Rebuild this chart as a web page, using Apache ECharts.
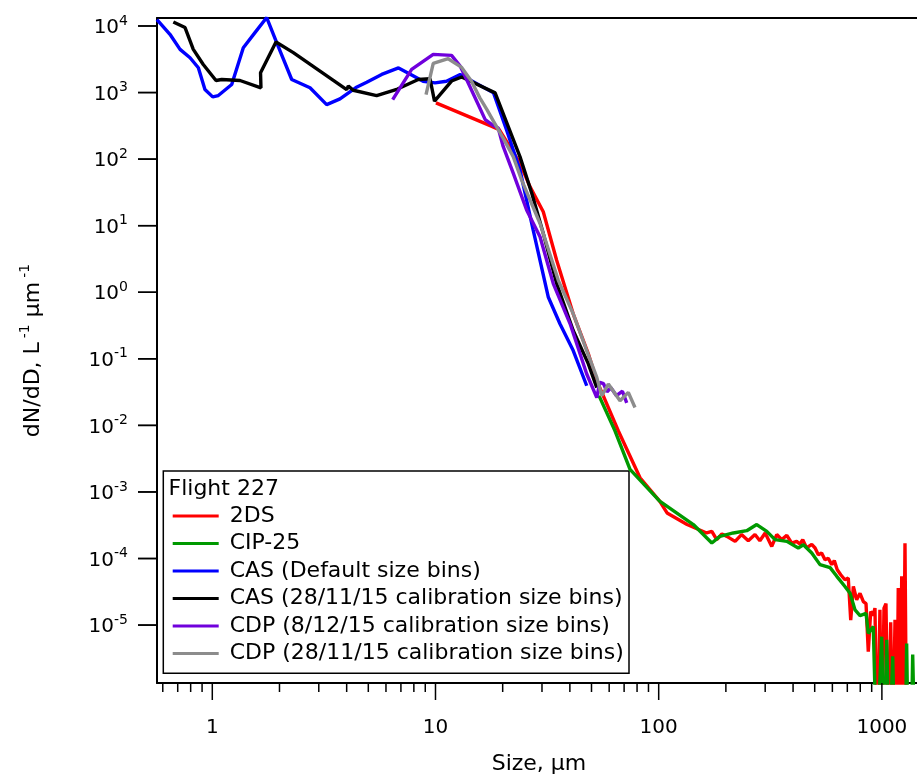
<!DOCTYPE html>
<html>
<head>
<meta charset="utf-8">
<script src="https://cdn.jsdelivr.net/npm/echarts@6/dist/echarts.min.js"></script>
<style>
  html, body { margin: 0; padding: 0; background: #fff; }
  #chart { width: 917px; height: 776px; }
</style>
</head>
<body>
<div id="chart"></div>
<script>
// size (um) vs dN/dD (L-1 um-1); 1e-7 stands for empty bins that drop off the axis
const seriesNames = [
  '2DS',
  'CIP-25',
  'CAS (Default size bins)',
  'CAS (28/11/15 calibration size bins)',
  'CDP (8/12/15 calibration size bins)',
  'CDP (28/11/15 calibration size bins)'
];
const seriesColors = ['#ff0000', '#009900', '#0000ff', '#000000', '#7000dc', '#8c8c8c'];

const twoDS = [
  [10.05, 700], [17.9, 310], [19.3, 277], [23.9, 87], [26.5, 38.6], [30.4, 16.2], [34.9, 3.03],
  [41.4, 0.475], [48.4, 0.119], [52.8, 0.047], [65.9, 0.0083], [82.5, 0.00163], [101, 7.26e-4],
  [109, 4.84e-4], [134, 3.24e-4], [164, 2.42e-4], [173, 2.56e-4], [182, 1.92e-4], [192, 2.34e-4],
  [202, 2.15e-4], [220, 1.81e-4], [235, 2.29e-4], [252, 1.85e-4], [270, 2.29e-4], [284, 1.85e-4],
  [300, 2.42e-4], [321, 1.52e-4], [338, 2.29e-4], [356, 1.92e-4], [375, 2.23e-4], [394, 1.71e-4],
  [415, 1.81e-4], [429, 1.65e-4], [442, 1.92e-4], [460, 1.44e-4], [485, 1.63e-4], [502, 1.44e-4],
  [519, 1.14e-4], [537, 1.21e-4], [556, 9.6e-5], [575, 1.01e-4], [596, 8.1e-5], [612, 9.3e-5],
  [631, 6.8e-5], [654, 5.7e-5], [683, 4.8e-5], [707, 5.1e-5], [725, 1.19e-5], [745, 3.8e-5],
  [771, 2.4e-5], [798, 3.0e-5], [826, 2.25e-5], [849, 2.1e-5], [869, 4.0e-6], [891, 1.6e-5],
  [915, 1.4e-5], [931, 1.8e-5], [954, 1e-7], [980, 1.7e-5], [998, 1e-7], [1022, 1.8e-5],
  [1043, 2.1e-5], [1068, 1e-7], [1095, 1.1e-5], [1118, 1e-7], [1145, 1.2e-5], [1165, 1e-7],
  [1184, 3.6e-5], [1205, 1e-7], [1227, 5.4e-5], [1247, 1e-7], [1269, 1.7e-4], [1291, 1e-7]
];

const cip25 = [
  [54, 0.028], [63.7, 0.0083], [74.4, 0.00218], [101, 7.26e-4], [143, 3.24e-4], [173, 1.71e-4],
  [188, 2.15e-4], [216, 2.42e-4], [248, 2.62e-4], [275, 3.24e-4], [305, 2.56e-4], [332, 1.92e-4],
  [375, 1.81e-4], [422, 1.44e-4], [445, 1.61e-4], [485, 1.21e-4], [528, 8.1e-5], [586, 7.3e-5],
  [628, 5.4e-5], [683, 3.8e-5], [720, 3.0e-5], [758, 1.69e-5], [798, 1.39e-5], [849, 1.5e-5],
  [869, 7.5e-6], [915, 9.5e-6], [948, 1e-7], [998, 6.7e-6], [1022, 1e-7], [1051, 6.0e-6],
  [1080, 1e-7], [1118, 3.4e-6], [1145, 1e-7], [1270, 1e-7], [1291, 5.3e-6], [1313, 1e-7],
  [1350, 1e-7], [1374, 3.6e-6], [1407, 1e-7]
];

const casDefault = [
  [0.565, 12500], [0.646, 7500], [0.717, 4460], [0.795, 3330], [0.866, 2360], [0.927, 1110],
  [1.004, 861], [1.064, 902], [1.222, 1321], [1.377, 4720], [1.553, 7940], [1.753, 13400],
  [1.943, 5620], [2.269, 1571], [2.74, 1178], [3.254, 659], [3.734, 803], [4.40, 1188],
  [4.92, 1429], [5.74, 1870], [6.83, 2344], [7.82, 1837], [8.8, 1480], [9.95, 1400],
  [11.2, 1479], [12.9, 1870], [18.2, 989], [20.8, 277], [23.9, 69], [27.4, 8.6], [32.0, 0.85],
  [36.1, 0.336], [41.4, 0.133], [47.6, 0.0394]
];

const casCal = [
  [0.669, 11500], [0.755, 9460], [0.822, 4460], [0.911, 2640], [1.039, 1517], [1.102, 1571],
  [1.331, 1517], [1.652, 1178], [1.645, 1982], [1.929, 5740], [2.307, 3973], [4.0, 1110],
  [4.07, 1254], [4.28, 1084], [5.45, 902], [6.76, 1130], [8.37, 1571], [9.45, 1611], [9.90, 745],
  [11.8, 1490], [13.1, 1714], [18.5, 989], [23.9, 109], [27.0, 30.7], [30.4, 7.66], [34.9, 1.35],
  [41.4, 0.266], [48.4, 0.084], [52.8, 0.037]
];

const cdpDec = [
  [6.43, 783], [7.82, 2223], [9.77, 3743], [11.8, 3612], [12.9, 2496], [14.0, 1400], [15.3, 740],
  [16.7, 392], [17.9, 329], [19.1, 294], [20.1, 155], [22.3, 61.5], [25.6, 17.2], [29.4, 6.81],
  [33.7, 1.35], [40.1, 0.336], [47.6, 0.0592], [52.8, 0.0262], [54.5, 0.0442], [56.6, 0.0423],
  [58.7, 0.032], [61.1, 0.0368], [64.7, 0.0279], [68.8, 0.0326], [71.9, 0.0218]
];

const cdpNov = [
  [9.07, 933], [9.77, 2735], [11.4, 3222], [13.1, 2384], [14.5, 1479], [15.8, 832], [17.0, 555],
  [18.2, 369], [20.1, 207], [22.3, 109], [24.3, 48.8], [29.4, 10.8], [35.5, 1.51], [41.4, 0.475],
  [47.6, 0.133], [52.8, 0.0526], [55.6, 0.0279], [59.5, 0.0418], [67.1, 0.0234], [73.1, 0.0313],
  [78.3, 0.0186]
];

const xMajorTicks = [1, 10, 100, 1000];
const xMinorTicks = [0.6, 0.7, 0.8, 0.9, 2, 3, 4, 5, 6, 7, 8, 9, 20, 30, 40, 50, 60, 70, 80, 90,
  200, 300, 400, 500, 600, 700, 800, 900];
const yMajorTicks = [1e-5, 1e-4, 1e-3, 1e-2, 1e-1, 1, 10, 100, 1000, 10000];

const X_MIN = 0.5653, X_MAX = 1497;
const Y_MIN = Math.pow(10, -5.87), Y_MAX = Math.pow(10, 4.12);
const FONT = 'DejaVu Sans';
const PLOT_LEFT = 157;

const allData = [twoDS, cip25, casDefault, casCal, cdpDec, cdpNov];

// tick marks outside the frame, placed through the axis scales
function tickSeries(values, dir, len) {
  return {
    type: 'custom',
    clip: false,
    z: 5,
    data: values.map(v => dir === 'x' ? [v, 1] : [1, v]),
    encode: { x: 0, y: 1 },
    renderItem: (params, api) => {
      const cs = params.coordSys;
      const p = api.coord([api.value(0), api.value(1)]);
      const shape = dir === 'x'
        ? { x: p[0] - 0.75, y: cs.y + cs.height, width: 1.5, height: len }
        : { x: cs.x - len, y: p[1] - 0.75, width: len, height: 1.5 };
      return { type: 'rect', shape: shape, style: { fill: '#000' } };
    }
  };
}

const lineSeries = seriesNames.map((name, i) => ({
  name: name,
  type: 'line',
  data: allData[i],
  showSymbol: false,
  symbol: 'none',
  smooth: false,
  color: seriesColors[i],
  lineStyle: { width: 3.4, color: seriesColors[i] },
  z: 2
}));

const axisLineStyle = { color: '#000', width: 2 };

const chart = echarts.init(document.getElementById('chart'), null, { renderer: 'canvas' });
chart.setOption({
  animation: false,
  grid: { left: PLOT_LEFT, right: -4, top: 18, bottom: 93, outerBoundsMode: 'none' },
  xAxis: [{
    type: 'log', logBase: 10, min: X_MIN, max: X_MAX,
    axisLine: { show: true, lineStyle: axisLineStyle },
    axisTick: { show: false },
    splitLine: { show: false },
    minorTick: { show: false },
    axisLabel: {
      show: true, margin: 35, color: '#000', fontSize: 20, fontFamily: FONT,
      showMinLabel: false, showMaxLabel: false,
      formatter: v => String(Math.round(v))
    },
    name: 'Size, µm', nameLocation: 'middle', nameGap: 70,
    nameTextStyle: { color: '#000', fontSize: 22, fontFamily: FONT }
  }, {
    type: 'log', logBase: 10, min: X_MIN, max: X_MAX, position: 'top',
    axisLine: { show: true, lineStyle: axisLineStyle },
    axisTick: { show: false },
    axisLabel: { show: false },
    splitLine: { show: false }
  }],
  yAxis: {
    type: 'log', logBase: 10, min: Y_MIN, max: Y_MAX, splitNumber: 10,
    axisLine: { show: true, lineStyle: axisLineStyle },
    axisTick: { show: false },
    splitLine: { show: false },
    axisLabel: {
      show: true, margin: 29,
      showMinLabel: false, showMaxLabel: false,
      formatter: v => '{b|10}{s|' + Math.round(Math.log10(v)) + '}',
      rich: {
        b: { fontSize: 20, fontFamily: FONT, color: '#000', verticalAlign: 'bottom', lineHeight: 20, padding: [28, 0, 0, 0] },
        s: { fontSize: 14, fontFamily: FONT, color: '#000', verticalAlign: 'bottom', padding: [0, 0, 10, 0] }
      }
    },
    name: '{t|dN/dD, L}{s|-1}{t| µm}{s|-1}', nameLocation: 'middle', nameGap: 113, nameRotate: 90,
    nameTextStyle: {
      color: '#000', fontSize: 22, fontFamily: FONT,
      rich: {
        t: { fontSize: 22, fontFamily: FONT, color: '#000', verticalAlign: 'bottom', lineHeight: 22 },
        s: { fontSize: 14, fontFamily: FONT, color: '#000', verticalAlign: 'bottom', padding: [0, 0, 12, 4] }
      }
    }
  },
  legend: {
    data: seriesNames,
    orient: 'vertical',
    left: 172.7, top: 504, padding: 0,
    icon: 'rect',
    itemWidth: 46, itemHeight: 3, itemGap: 3.5,
    selectedMode: false,
    textStyle: { color: '#000', fontSize: 22, fontFamily: FONT, lineHeight: 24, padding: [0, 0, 0, 6] },
    z: 10
  },
  graphic: [
    {
      id: 'legendBox', type: 'rect', z: 1,
      shape: { x: 163.3, y: 471, width: 465.7, height: 202.3 },
      style: { fill: '#fff', stroke: '#000', lineWidth: 1.5 }
    },
    {
      id: 'legendTitle', type: 'text', z: 11,
      style: { x: 168.5, y: 489, text: 'Flight 227', fill: '#000', fontSize: 22, fontFamily: FONT, verticalAlign: 'middle' }
    }
  ],
  series: [
    tickSeries(xMajorTicks, 'x', 17),
    tickSeries(xMinorTicks, 'x', 9),
    tickSeries(yMajorTicks, 'y', 19)
  ].concat(lineSeries)
});

// y tick marks again as graphics, positioned with the y axis scale
const yTickGraphics = [];
yMajorTicks.forEach((v, i) => {
  const pt = chart.convertToPixel({ gridIndex: 0 }, [1, v]);
  if (pt && isFinite(pt[1])) {
    yTickGraphics.push({
      id: 'ytick' + i, type: 'rect', z: 100,
      shape: { x: PLOT_LEFT - 19, y: pt[1] - 0.75, width: 19, height: 1.5 },
      style: { fill: '#000' }
    });
  }
});
if (yTickGraphics.length) chart.setOption({ graphic: yTickGraphics });
</script>
</body>
</html>
